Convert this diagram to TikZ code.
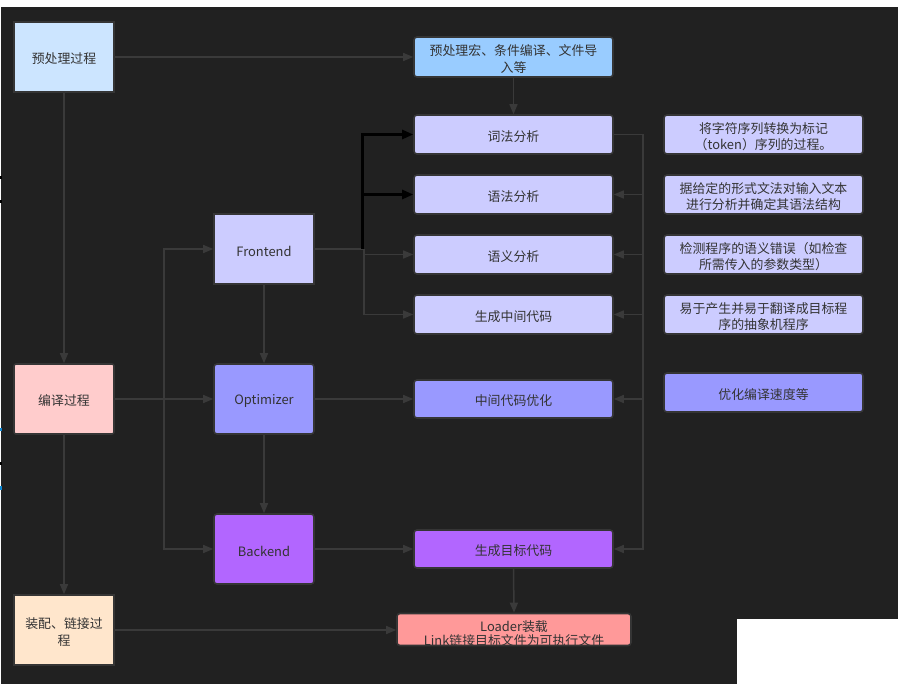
\documentclass[tikz,border=0pt]{standalone}
\usepackage{fontspec}
\setmainfont{Noto Sans CJK SC}
\usetikzlibrary{arrows.meta}
\definecolor{bg}{HTML}{212121}
\definecolor{ln}{HTML}{3A3A3A}
\definecolor{bd}{HTML}{353535}
\definecolor{tx}{HTML}{333333}
\definecolor{cPre}{HTML}{CCE5FF}
\definecolor{cComp}{HTML}{FFCCCC}
\definecolor{cLink}{HTML}{FFE6CC}
\definecolor{cFe}{HTML}{CCCCFF}
\definecolor{cOpt}{HTML}{9999FF}
\definecolor{cBe}{HTML}{B266FF}
\definecolor{cPm}{HTML}{99CCFF}
\definecolor{cLd}{HTML}{FF9999}
\tikzset{
  lbl/.style={text=tx, align=center, inner sep=0pt, yshift=-2pt,
    font=\fontsize{12.9}{16.5}\selectfont},
  txt/.style={label={[lbl]center:{#1}}},
  box/.style={draw=bd, line width=1.6pt, inner sep=0pt},
  bigbox/.style={box, minimum width=100pt, minimum height=70pt},
  wide/.style={box, minimum width=199pt, minimum height=39pt, rounded corners=3pt},
  edge/.style={draw=ln, line width=1.5pt, -{Triangle[length=10pt,width=8pt]}},
  plain/.style={draw=ln, line width=1.5pt},
  blk/.style={draw=black, line width=2.6pt, -{Triangle[length=11pt,width=9pt]}},
}
\begin{document}
\begin{tikzpicture}[x=1pt,y=-1pt]
\useasboundingbox (0,0) rectangle (906,684);
\fill[white] (0,0) rectangle (906,684);
\fill[bg] (1,7) rectangle (898,684);
\fill[white] (737,619) rectangle (906,684);
% small edge marks
\fill[black] (0,176) rectangle (1.5,179);
\fill[black] (0,200) rectangle (1.5,203);
\fill[black] (0,462) rectangle (1.5,465);
\fill[cyan!70!blue] (0,428) rectangle (1.5,431);
\fill[cyan!70!blue] (0,486) rectangle (1.5,490);

% left column
\node[bigbox, fill=cPre, txt={预处理过程}] (pre) at (64,57) {};
\node[bigbox, fill=cComp, rounded corners=2pt, txt={编译过程}] (comp) at (64,399) {};
\node[bigbox, fill=cLink, txt={装配、链接过\\程}] (link) at (64,630) {};

% middle column
\node[bigbox, fill=cFe, txt={Frontend}] (fe) at (264,249) {};
\node[bigbox, fill=cOpt, rounded corners=3pt, txt={Optimizer}] (opt) at (264,399) {};
\node[bigbox, fill=cBe, rounded corners=3pt, txt={Backend}] (be) at (264,549) {};

% right column
\node[wide, fill=cPm, minimum height=40pt, txt={预处理宏、条件编译、文件导\\入等}] (pm) at (513.5,57) {};
\node[wide, fill=cFe, txt={词法分析}] (lex) at (513.5,134.5) {};
\node[wide, fill=cFe, txt={语法分析}] (syn) at (513.5,194.5) {};
\node[wide, fill=cFe, txt={语义分析}] (sem) at (513.5,254.5) {};
\node[wide, fill=cFe, txt={生成中间代码}] (gen) at (513.5,314.5) {};
\node[wide, fill=cOpt, minimum height=38pt, txt={中间代码优化}] (iopt) at (513.5,399) {};
\node[wide, fill=cBe, minimum height=38pt, txt={生成目标代码}] (tgt) at (513.5,549) {};

% loader box with clipped text
\node[box, fill=cLd, minimum width=234pt, minimum height=32pt, rounded corners=3pt] (ld) at (514,629.5) {};
\begin{scope}
\clip (398,614.5) rectangle (630,644.2);
\node[lbl, yshift=0pt, font=\fontsize{12.9}{14.2}\selectfont] (ldt) at (514,632) {Loader装载\\Link链接目标文件为可执行文件};
\end{scope}

% notes
\node[wide, fill=cFe, txt={将字符序列转换为标记\\（token）序列的过程。}] (n1) at (763.5,134.5) {};
\node[wide, fill=cFe, txt={据给定的形式文法对输入文本\\进行分析并确定其语法结构}] (n2) at (763.5,194.5) {};
\node[wide, fill=cFe, txt={检测程序的语义错误（如检查\\所需传入的参数类型）}] (n3) at (763.5,254.5) {};
\node[wide, fill=cFe, txt={易于产生并易于翻译成目标程\\序的抽象机程序}] (n4) at (763.5,314.5) {};
\node[wide, fill=cOpt, txt={优化编译速度等}] (n5) at (763.5,392.5) {};

% junction coordinates
\coordinate (jl) at (164,399);
\coordinate (jf) at (364,249);
\coordinate (jb) at (362.5,249);
\coordinate (rb) at (643,134.5);

% connectors
\draw[edge] (pre.east) -- (pm.west |- pre.east);
\draw[edge] (pm.south) -- (lex.north);
\draw[edge] (pre.south) -- (comp.north);
\draw[edge] (comp.south) -- (link.north);
\draw[edge] (comp.east) -- (opt.west);
\draw[edge] (jl) |- (fe.west);
\draw[edge] (jl) |- (be.west);
\draw[edge] (fe.south) -- (opt.north);
\draw[edge] (opt.south) -- (be.north);
\draw[edge] (opt.east) -- (iopt.west);
\draw[edge] (be.east) -- (tgt.west);
\draw[edge] (tgt.south) -- (ld.north);
\draw[edge] (link.east) -- (ld.west |- link.east);

\draw[plain] (fe.east) -- (jf);
\draw[edge] (jf) |- (sem.west);
\draw[edge] (jf) |- (gen.west);
\draw[blk] ([yshift=1.5pt]jb) |- (lex.west);
\draw[blk] (jb) |- (syn.west);

\draw[plain] (lex.east) -- (rb);
\draw[edge] (rb) |- (syn.east);
\draw[edge] (rb) |- (sem.east);
\draw[edge] (rb) |- (gen.east);
\draw[edge] (rb) |- (iopt.east);
\draw[edge] (rb) |- (tgt.east);
\end{tikzpicture}
\end{document}
